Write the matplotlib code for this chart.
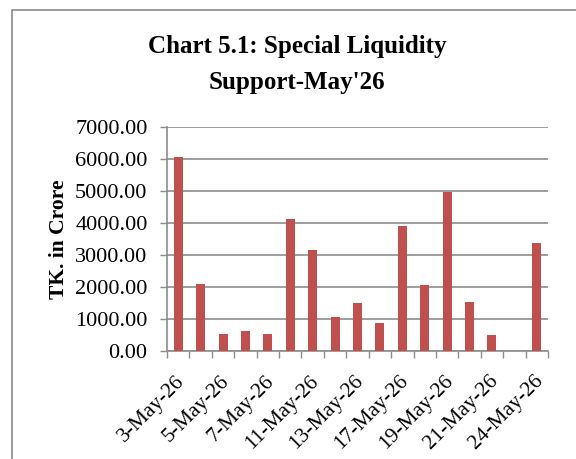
import matplotlib
matplotlib.use("Agg")
import matplotlib.pyplot as plt
from matplotlib.patches import Rectangle
import numpy as np

dates = ["3-May-26", "4-May-26", "5-May-26", "6-May-26", "7-May-26", "10-May-26",
         "11-May-26", "12-May-26", "13-May-26", "14-May-26", "17-May-26", "18-May-26",
         "19-May-26", "20-May-26", "21-May-26", "23-May-26", "24-May-26"]
values = [6050, 2090, 520, 630, 520, 4120, 3150, 1050, 1490, 860, 3910, 2060,
          4980, 1530, 490, 0, 3370]
yticks = [0, 1000, 2000, 3000, 4000, 5000, 6000, 7000]

plt.rcParams['font.family'] = ['Liberation Serif', 'DejaVu Serif']

W, H = 576, 459
fig = plt.figure(figsize=(W / 100, H / 100), dpi=100)
fig.patch.set_facecolor('white')

# outer chart frame (extends past right/bottom edges)
fig.patches.append(Rectangle((12 / W, -0.1), 1.2, 1 - 10 / H + 0.1,
                             transform=fig.transFigure, fill=False,
                             edgecolor='#898989', linewidth=1.2))

left, right, top, bottom = 167, 548, 127, 351
ax = fig.add_axes([left / W, 1 - bottom / H, (right - left) / W, (bottom - top) / H])

x = np.arange(len(dates))
ax.bar(x, values, width=0.4, color='#C0504D', zorder=3)

ax.set_xlim(-0.5, len(dates) - 0.5)
ax.set_ylim(0, 7000)
ax.set_yticks(yticks)
ax.set_yticklabels([f"{v:.2f}" for v in yticks], fontsize=16)
ax.yaxis.grid(True, color='#8c8c8c', linewidth=1.2, zorder=0)
ax.set_axisbelow(True)

# x ticks at category boundaries, labels every other category
ax.set_xticks(np.arange(-0.5, len(dates) + 0.5, 1.0))
ax.set_xticklabels([])
ax.tick_params(axis='x', length=5, color='#8c8c8c', width=1)
ax.tick_params(axis='y', length=5, color='#8c8c8c', width=1, pad=9)
for i in range(0, len(dates), 2):
    ax.text(i - 0.15, -650, dates[i], rotation=45, ha='right', va='top',
            rotation_mode='anchor', fontsize=15.5, transform=ax.transData)

for s in ['top', 'right']:
    ax.spines[s].set_visible(False)
for s in ['left', 'bottom']:
    ax.spines[s].set_color('#8c8c8c')
    ax.spines[s].set_linewidth(1.2)

ax.set_ylabel("TK. in Crore", fontsize=15.5, fontweight='bold')
ax.yaxis.set_label_coords((69 - left) / (right - left), 0.5)

fig.text(297 / W, 1 - 47 / H, "Chart 5.1: Special Liquidity", ha='center', va='center',
         fontsize=18, fontweight='bold')
fig.text(297 / W, 1 - 82 / H, "Support-May'26", ha='center', va='center',
         fontsize=18, fontweight='bold')

fig.savefig("out.png", dpi=100)
